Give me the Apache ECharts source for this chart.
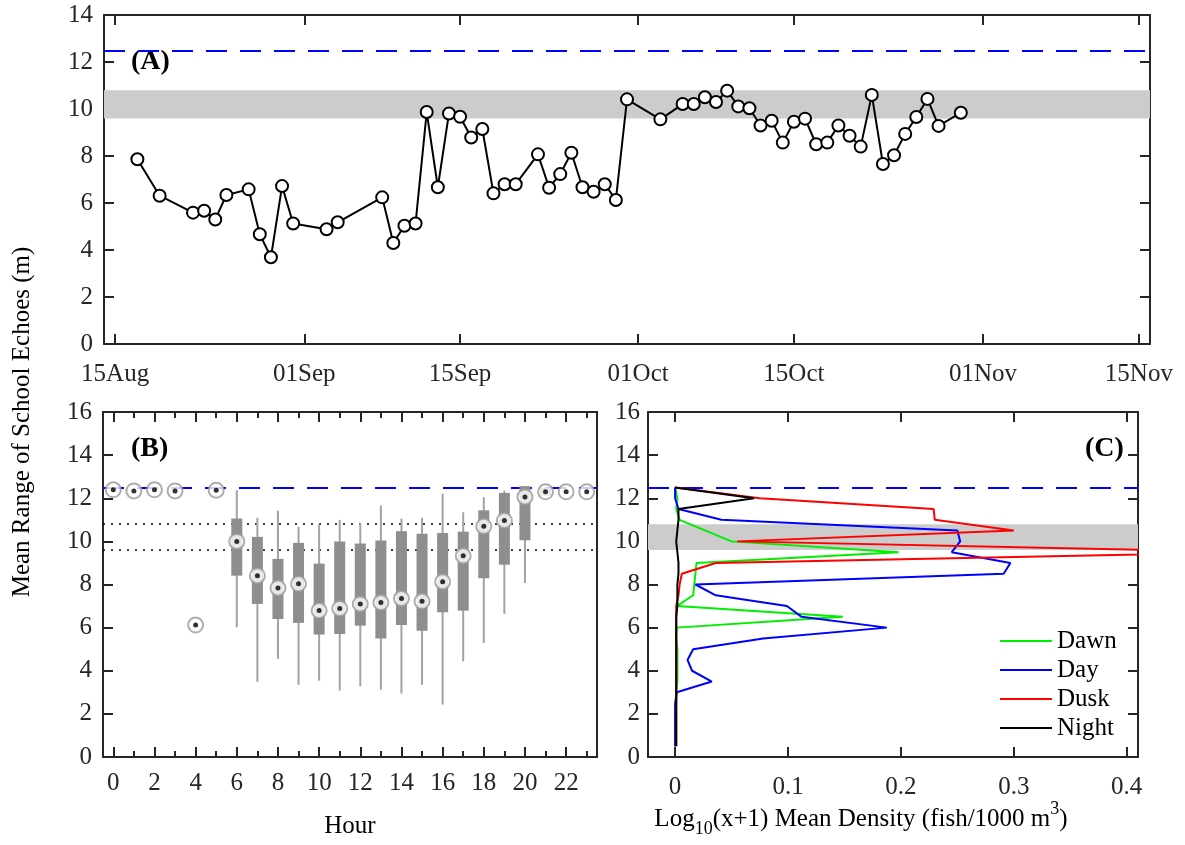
<!DOCTYPE html>
<html>
<head>
<meta charset="utf-8">
<script src="https://cdn.jsdelivr.net/npm/echarts@6/dist/echarts.min.js"></script>
<style>
html,body{margin:0;padding:0;background:#fff;}
#chart{width:1185px;height:845px;}
</style>
</head>
<body>
<div id="chart"></div>
<script>
// ---------- Panel A: daily mean range (days counted from 15 Aug) ----------
const schoolDay = [2,4,7,8,9,10,12,13,14,15,16,19,20,24,25,26,27,28,29,30,31,32,33,34,35,36,38,39,40,41,42,43,44,45,46,49,51,52,53,54,55,56,57,58,59,60,61,62,63,64,65,66,67,68,69,70,71,72,73,74,76];
const schoolRange = [7.86,6.31,5.59,5.67,5.30,6.34,6.58,4.67,3.69,6.72,5.13,4.88,5.18,6.24,4.30,5.03,5.13,9.87,6.67,9.81,9.67,8.79,9.15,6.41,6.80,6.80,8.07,6.65,7.23,8.14,6.67,6.48,6.80,6.13,10.41,9.56,10.21,10.21,10.50,10.30,10.78,10.11,10.03,9.30,9.50,8.57,9.46,9.59,8.50,8.57,9.30,8.86,8.40,10.60,7.66,8.03,8.94,9.66,10.43,9.28,9.84];
const dateTickDay = [0,17,31,47,61,78,92];
const dateTickLabel = ['15Aug','01Sep','15Sep','01Oct','15Oct','01Nov','15Nov'];

// ---------- Reference levels ----------
const refRange = 12.5;
const bandRange = [9.6, 10.8];

// ---------- Panel B: hourly box statistics ----------
const hours      = [0,1,2,3,4,5,6,7,8,9,10,11,12,13,14,15,16,17,18,19,20,21,22,23];
const hourMedian = [12.39,12.34,12.39,12.34,6.12,12.37,10.00,8.41,7.84,8.03,6.79,6.89,7.10,7.16,7.35,7.22,8.13,9.33,10.70,10.97,12.06,12.30,12.30,12.30];
const hourQ1     = [null,null,null,null,null,null,8.41,7.10,6.40,6.22,5.68,5.71,6.09,5.50,6.12,5.85,6.71,6.79,8.29,8.92,10.05,12.12,null,null];
const hourQ3     = [null,null,null,null,null,null,11.06,10.21,9.19,9.93,8.97,9.99,9.90,10.04,10.47,10.35,10.39,10.45,11.44,12.25,12.56,12.48,null,null];
const hourLow    = [null,null,null,null,null,null,6.02,3.48,4.55,3.35,3.54,3.08,3.28,3.12,2.94,3.35,2.43,4.44,5.29,6.64,8.07,12.12,null,null];
const hourHigh   = [null,null,null,null,null,null,12.37,11.09,11.43,10.67,10.81,11.00,10.86,11.66,11.06,11.09,12.22,11.35,12.05,12.36,12.56,12.48,null,null];
const hourMajorTicks = [0,2,4,6,8,10,12,14,16,18,20,22];

// ---------- Panel C: density profiles by range bin ----------
const rangeBin     = [0.5,1,1.5,2,2.5,3,3.5,4,4.5,5,5.5,6,6.5,7,7.5,8,8.5,9,9.5,10,10.5,11,11.5,12,12.5];
const dawnDensity  = [0,0,0,0,0.001,0.001,0.002,0.002,0.002,0.002,0.001,0.0015,0.1485,0.0015,0.016,0.017,0.018,0.019,0.198,0.050,0.027,0.004,0.001,0.002,0];
const dayDensity   = [0,0,0,0,0,0.0015,0.0325,0.015,0.011,0.016,0.078,0.1875,0.112,0.099,0.036,0.018,0.291,0.297,0.245,0.2525,0.250,0.041,0.003,0,0];
const duskDensity  = [0.001,0.001,0.001,0.001,0.001,0.001,0.001,0.001,0.001,0.001,0.001,0.001,0.001,0.001,0.003,0.004,0.006,0.036,0.52,0.055,0.300,0.230,0.229,0.075,0];
const nightDensity = [0.001,0.001,0.001,0.001,0.001,0.001,0.001,0.001,0.001,0.001,0.001,0.001,0.001,0.002,0.002,0.002,0.003,0.003,0.002,0.001,0.002,0.003,0.003,0.070,0];
const densityTicks = [0,0.1,0.2,0.3,0.4];
const phaseNames = ['Dawn','Day','Dusk','Night'];

// ---------- Styling ----------
const FONT = 'Liberation Serif';
const AX = '#262626';
const LBL = 25;

const chart = echarts.init(document.getElementById('chart'), null, {renderer:'canvas'});

function axisBase(extra){
  return Object.assign({
    axisLine:{show:true, onZero:false, lineStyle:{color:AX, width:2}},
    splitLine:{show:false},
    axisLabel:{show:false},
    axisTick:{show:false}
  }, extra);
}
function ticks(len, vals){
  const t = {show:true, inside:true, length:len, lineStyle:{color:AX, width:2}};
  if (vals) t.customValues = vals;
  return t;
}
function labels(margin, vals, fmt){
  const l = {show:true, margin:margin, color:AX, fontFamily:FONT, fontSize:LBL};
  if (vals) l.customValues = vals;
  if (fmt) l.formatter = fmt;
  return l;
}

const xAxes = [
  // panel A
  axisBase({gridIndex:0, type:'value', min:-1, max:93, position:'bottom',
    axisTick:ticks(10, dateTickDay),
    axisLabel:labels(18, dateTickDay, v => dateTickLabel[dateTickDay.indexOf(v)] || '')}),
  axisBase({gridIndex:0, type:'value', min:-1, max:93, position:'top', axisTick:ticks(10, dateTickDay)}),
  // panel B
  axisBase({gridIndex:1, type:'value', min:-0.5, max:23.5, position:'bottom',
    axisTick:ticks(10, hourMajorTicks), axisLabel:labels(14, hourMajorTicks, v => String(v))}),
  axisBase({gridIndex:1, type:'value', min:-0.5, max:23.5, position:'bottom', axisTick:ticks(6, hours)}),
  axisBase({gridIndex:1, type:'value', min:-0.5, max:23.5, position:'top', axisTick:ticks(10, hourMajorTicks)}),
  axisBase({gridIndex:1, type:'value', min:-0.5, max:23.5, position:'top', axisTick:ticks(6, hours)}),
  // panel C
  axisBase({gridIndex:2, type:'value', min:-0.024, max:0.41, position:'bottom',
    axisTick:ticks(10, densityTicks), axisLabel:labels(18, densityTicks, v => v === 0 ? '0' : v.toFixed(1))}),
  axisBase({gridIndex:2, type:'value', min:-0.024, max:0.41, position:'top', axisTick:ticks(10, densityTicks)})
];
const yAxes = [
  axisBase({gridIndex:0, type:'value', min:0, max:14, interval:2, position:'left', axisTick:ticks(10), axisLabel:labels(11)}),
  axisBase({gridIndex:0, type:'value', min:0, max:14, interval:2, position:'right', axisTick:ticks(10)}),
  axisBase({gridIndex:1, type:'value', min:0, max:16, interval:2, position:'left', axisTick:ticks(10), axisLabel:labels(11)}),
  axisBase({gridIndex:1, type:'value', min:0, max:16, interval:2, position:'right'}),
  axisBase({gridIndex:2, type:'value', min:0, max:16, interval:2, position:'left', axisTick:ticks(10), axisLabel:labels(8)}),
  axisBase({gridIndex:2, type:'value', min:0, max:16, interval:2, position:'right', axisTick:ticks(10)})
];

const dashedBlue = {color:'#0000ff', width:2, type:[21,13]};

const boxData = hours.map((h,i) => [h, hourLow[i], hourQ1[i], hourQ3[i], hourHigh[i]]).filter(d => d[2] !== null);
const medianData = hours.map((h,i) => [h, hourMedian[i]]);

function renderBox(params, api){
  const x = api.value(0);
  const lo = api.coord([x, api.value(1)]);
  const q1 = api.coord([x, api.value(2)]);
  const q3 = api.coord([x, api.value(3)]);
  const hi = api.coord([x, api.value(4)]);
  return {type:'group', children:[
    {type:'line', shape:{x1:lo[0], y1:lo[1], x2:hi[0], y2:hi[1]}, style:{stroke:'#a3a3a3', lineWidth:2}},
    {type:'rect', shape:{x:q3[0]-5.5, y:q3[1], width:11, height:q1[1]-q3[1]}, style:{fill:'#8e8e8e'}}
  ]};
}

const colors = ['#00ee00','#0000ff','#ff0000','#000000'];
const profiles = [dawnDensity, dayDensity, duskDensity, nightDensity];
const profileSeries = profiles.map((arr, k) => ({
  name: phaseNames[k], type:'line', xAxisIndex:6, yAxisIndex:4,
  data: rangeBin.map((r,i) => [arr[i], r]),
  symbol:'none', clip:true, z: 3 + k,
  lineStyle:{color:colors[k], width:2}, itemStyle:{color:colors[k]}
}));
profileSeries[0].markArea = {silent:true, z:1, itemStyle:{color:'#cccccc', borderWidth:0},
  data:[[{yAxis:bandRange[0]},{yAxis:bandRange[1]}]]};
profileSeries[0].markLine = {silent:true, z:1, symbol:'none', label:{show:false},
  lineStyle:dashedBlue, data:[{yAxis:refRange}]};

const option = {
  animation:false,
  backgroundColor:'#ffffff',
  grid:[
    {left:104, top:15, width:1046, height:329},
    {left:103, top:412, width:494, height:345},
    {left:648, top:412, width:490, height:345}
  ],
  xAxis:xAxes,
  yAxis:yAxes,
  legend:{
    data:phaseNames, orient:'vertical', left:994, top:622,
    itemWidth:52, itemHeight:14, itemGap:1,
    itemStyle:{opacity:0},
    textStyle:{fontFamily:FONT, fontSize:LBL, color:'#000', lineHeight:28}
  },
  graphic:[
    {type:'text', x:22, y:422, rotation:Math.PI/2, style:{text:'Mean Range of School Echoes (m)', font:'25px "Liberation Serif"', fill:'#000', align:'center', verticalAlign:'middle'}},
    {type:'text', x:131, y:62, style:{text:'(A)', font:'bold 28px "Liberation Serif"', fill:'#000', align:'left', verticalAlign:'middle'}},
    {type:'text', x:131, y:449, style:{text:'(B)', font:'bold 28px "Liberation Serif"', fill:'#000', align:'left', verticalAlign:'middle'}},
    {type:'text', x:1085, y:449, style:{text:'(C)', font:'bold 28px "Liberation Serif"', fill:'#000', align:'left', verticalAlign:'middle'}},
    {type:'text', x:350, y:826, style:{text:'Hour', font:'25px "Liberation Serif"', fill:'#000', align:'center', verticalAlign:'middle'}},
    {type:'text', x:861, y:819, style:{
      text:'Log{sub|10}(x+1) Mean Density (fish/1000 m{sup|3})',
      fontFamily:FONT, fontSize:25, fill:'#000', align:'center', verticalAlign:'middle', lineHeight:38,
      rich:{
        sub:{fontFamily:FONT, fontSize:18, verticalAlign:'bottom', lineHeight:38, fill:'#000'},
        sup:{fontFamily:FONT, fontSize:18, verticalAlign:'top', lineHeight:38, fill:'#000'}
      }}}
  ],
  series:[
    {
      name:'A', type:'line', xAxisIndex:0, yAxisIndex:0,
      data: schoolDay.map((d,i) => [d, schoolRange[i]]),
      symbol:'circle', symbolSize:12, z:3,
      lineStyle:{color:'#000', width:2},
      itemStyle:{color:'#fff', borderColor:'#000', borderWidth:2},
      markArea:{silent:true, z:1, itemStyle:{color:'#cccccc', borderWidth:0},
        data:[[{yAxis:bandRange[0]},{yAxis:bandRange[1]}]]},
      markLine:{silent:true, z:1, symbol:'none', label:{show:false}, lineStyle:dashedBlue, data:[{yAxis:refRange}]}
    },
    {
      name:'boxes', type:'custom', xAxisIndex:2, yAxisIndex:2, z:2,
      renderItem:renderBox, encode:{x:0, y:[1,2,3,4]}, data:boxData,
      markLine:{silent:true, z:1, symbol:'none', label:{show:false},
        data:[
          {yAxis:refRange, lineStyle:dashedBlue},
          {yAxis:bandRange[1], lineStyle:{color:'#000', width:1.5, type:[2,6]}},
          {yAxis:bandRange[0], lineStyle:{color:'#000', width:1.5, type:[2,6]}}
        ]}
    },
    {
      name:'median', type:'scatter', xAxisIndex:2, yAxisIndex:2, z:4,
      data:medianData, symbol:'circle', symbolSize:15,
      itemStyle:{color:'#fff', borderColor:'#9a9a9a', borderWidth:2}
    },
    {
      name:'medianDot', type:'scatter', xAxisIndex:2, yAxisIndex:2, z:5,
      data:medianData, symbol:'circle', symbolSize:5,
      itemStyle:{color:'#000'}
    }
  ].concat(profileSeries)
};
chart.setOption(option);
</script>
</body>
</html>
